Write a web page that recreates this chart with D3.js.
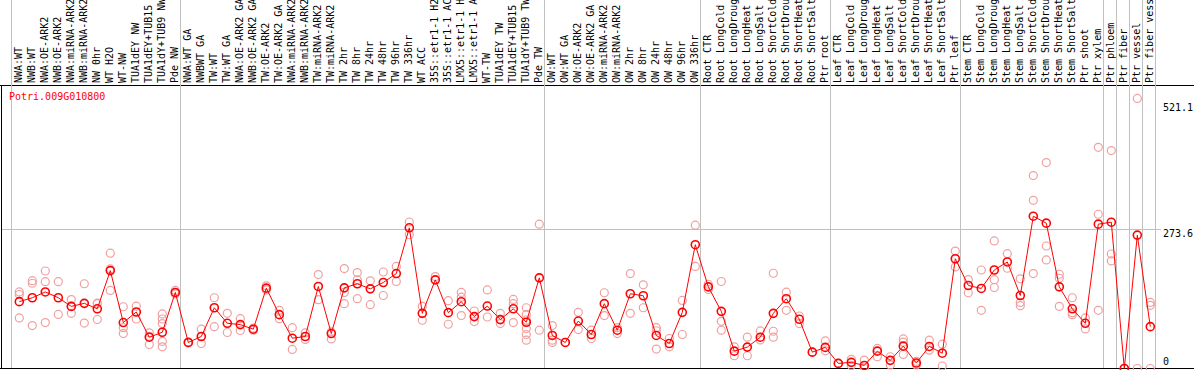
<!DOCTYPE html>
<html>
<head>
<meta charset="utf-8">
<script src="https://cdn.jsdelivr.net/npm/d3@7"></script>
<style>
  body { margin: 0; background: #fff; }
  svg { display: block; font-family: "DejaVu Sans Mono", monospace; font-size: 10px; }
</style>
</head>
<body>
<svg id="chart"></svg>
<script>
const geneName = "Potri.009G010800";

const samples = [
  "NWA:WT", "NWB:WT", "NWA:OE-ARK2", "NWB:OE-ARK2", "NWA:miRNA-ARK2", "NWB:miRNA-ARK2",
  "NW 0hr", "WT H2O", "WT-NW", "TUA1dEY NW", "TUA1dEY+TUB15 NW", "TUA1dY+TUB9 NW", "Pde NW",
  "NWA:WT GA", "NWBWT GA", "TW:WT", "TW:WT GA", "NWA:OE-ARK2 GA", "NWB:OE-ARK2 GA",
  "TW:OE-ARK2", "TW:OE-ARK2 GA", "NWA:miRNA-ARK2 GA", "NWB:miRNA-ARK2 GA", "TW:miRNA-ARK2",
  "TW:miRNA-ARK2 GA", "TW 2hr", "TW 8hr", "TW 24hr", "TW 48hr", "TW 96hr", "TW 336hr",
  "WT ACC", "35S::etr1-1 H2O", "35S::etr1-1 ACC", "LMX5::etr1-1 H2O", "LMX5::etr1-1 ACC",
  "WT-TW", "TUA1dEY TW", "TUA1dEY+TUB15 TW", "TUA1dY+TUB9 TW", "Pde TW",
  "OW:WT", "OW:WT GA", "OW:OE-ARK2", "OW:OE-ARK2 GA", "OW:miRNA-ARK2", "OW:miRNA-ARK2 GA",
  "OW 2hr", "OW 8hr", "OW 24hr", "OW 48hr", "OW 96hr", "OW 336hr",
  "Root CTR", "Root LongCold", "Root LongDrought", "Root LongHeat", "Root LongSalt",
  "Root ShortCold", "Root ShortDrought", "Root ShortHeat", "Root ShortSalt", "Ptr root",
  "Leaf CTR", "Leaf LongCold", "Leaf LongDrought", "Leaf LongHeat", "Leaf LongSalt",
  "Leaf ShortCold", "Leaf ShortDrought", "Leaf ShortHeat", "Leaf ShortSalt", "Ptr leaf",
  "Stem CTR", "Stem LongCold", "Stem LongDrought", "Stem LongHeat", "Stem LongSalt",
  "Stem ShortCold", "Stem ShortDrought", "Stem ShortHeat", "Stem ShortSalt", "Ptr shoot", "Ptr xylem",
  "Ptr phloem", "Ptr fiber", "Ptr vessel", "Ptr fiber vessel"
];

// first sample index of each group (gridline goes before it)
const groupStarts = [0, 13, 41, 53, 63, 73, 84, 85, 86, 87, 88];

const means = [
  131, 138.6, 150, 138.6, 121.7, 127.6, 117, 191.8, 90, 110.7, 61.3, 71, 149,
  51, 62.7, 119, 88.6, 86, 77, 157.4, 105.5, 59.4, 62.7, 160.7, 68.5, 158, 166, 156,
  168.5, 186, 275.6, 108, 173.7, 109.4, 130.9, 101.7, 122.3, 95.8, 117, 90.6, 177.6,
  64.7, 51, 93, 66.6, 127, 75, 146.4, 142.5, 64.7, 49, 110, 242.5,
  160, 112, 34, 41.9, 61.3, 108, 136.7, 96.4, 32, 41.3,
  10, 12, 6, 34, 16, 43.8, 10.7, 43.2, 30, 215,
  162.6, 156.8, 193, 208.7, 143, 298.3, 284.7, 160, 117, 88.6, 282.8,
  286.6, 0, 261.3, 82
];

const replicates = [
  [150, 145, 99], [172, 167, 84], [191, 170, 90], [170, 106], [135, 122, 108], [166, 89],
  [128, 127, 96], [226, 195, 153], [121, 80, 68.5], [122, 97], [69.8, 63, 47],
  [107, 97, 88, 53, 42.5], [153, 149, 146],
  [52, 50], [77, 49], [138.6, 82], [108, 70.5], [97.7, 74.4], [79, 75], [162, 154],
  [114, 97.7], [80, 37.4], [69.8, 57], [184, 134.8], [71.6, 58], [195.7, 149, 127],
  [188, 173.7, 136.7], [171.8, 125], [189, 143], [200, 170.4], [287, 262], [121.7, 94.5],
  [180], [132.8, 86.7], [149, 139.8, 103.6], [112.6, 92], [154, 100.9], [108, 88],
  [135.3, 127, 90], [119, 106, 95, 78.3, 66.6, 55.5], [282.8, 75],
  [84, 55.5, 51], [51], [110, 76.3], [75, 58.8], [148.4, 103.6], [68.5, 80], [186, 108],
  [164, 119], [80, 74, 38], [58.8, 42.5], [133.4, 66.6], [280.8, 200],
  [154.8, 165], [170.4, 92.5, 75], [42.5, 25], [61.3, 25], [73.6, 56], [186.6, 73, 61.3],
  [149.6, 114], [102.8, 88], [32], [54, 34.7],
  [10], [18, 6], [16.5, 0], [39.3, 23], [23, 7], [58, 51.6, 27.6], [14, 7], [55.5, 36],
  [47.7, 4.9], [230, 199],
  [174.3, 148.4], [193, 114], [250, 174, 158.7], [225, 196.4], [175.7, 129.5, 123],
  [378, 329.5, 186], [403.5, 240, 212.7], [184.6, 176.8, 121.7], [138.6, 109.4, 105.5],
  [99, 77.5], [433.3, 302.2, 114],
  [427, 224.3, 210.7], [0], [529, 0], [129.5, 123.7, 0]
];

const yTicks = [0, 273.6, 521.1];

const width = 1194, height = 370;
const svg = d3.select("#chart").attr("width", width).attr("height", height);

const x = d3.scaleBand()
  .domain(d3.range(samples.length))
  .range([11, 1155]);
const y = d3.scaleLinear().domain([0, 521.1]).range([368.5, 102.5]);
const cx = (i) => x(i) + 8.3;

// frame
svg.append("line").attr("x1", 0).attr("x2", width).attr("y1", 85.5).attr("y2", 85.5)
  .attr("stroke", "#000");
svg.append("line").attr("x1", 0).attr("x2", width).attr("y1", 368.5).attr("y2", 368.5)
  .attr("stroke", "#000");
svg.append("line").attr("x1", 1.5).attr("x2", 1.5).attr("y1", 85).attr("y2", 369)
  .attr("stroke", "#000");

// horizontal gridline at middle tick
svg.append("line")
  .attr("x1", 2).attr("x2", 1161)
  .attr("y1", Math.round(y(yTicks[1])) + 0.5).attr("y2", Math.round(y(yTicks[1])) + 0.5)
  .attr("stroke", "#c0c0c0");

// group separators
svg.selectAll(".vgrid")
  .data(groupStarts)
  .enter()
  .append("line")
  .attr("class", "vgrid")
  .attr("x1", (d) => Math.round(d < samples.length ? x(d) : x.range()[1]) + 0.5)
  .attr("x2", (d) => Math.round(d < samples.length ? x(d) : x.range()[1]) + 0.5)
  .attr("y1", 0).attr("y2", 368)
  .attr("stroke", "#c0c0c0");

// sample labels
svg.selectAll(".lab")
  .data(samples)
  .enter()
  .append("text")
  .attr("class", "lab")
  .attr("transform", (d, i) => "translate(" + (cx(i) + 3) + ",83) rotate(-90)")
  .attr("fill", "#000")
  .text((d) => d);

// replicate points
const repPts = [];
replicates.forEach((arr, i) => arr.forEach((v) => repPts.push({ i: i, v: v })));
svg.selectAll(".rep")
  .data(repPts)
  .enter()
  .append("circle")
  .attr("class", "rep")
  .attr("cx", (d) => cx(d.i))
  .attr("cy", (d) => y(d.v))
  .attr("r", 4)
  .attr("fill", "none")
  .attr("stroke", "#f0a0a0")
  .attr("stroke-width", 1.2);

// mean line
const line = d3.line()
  .x((d, i) => cx(i))
  .y((d) => y(d));
svg.append("path")
  .datum(means)
  .attr("d", line)
  .attr("fill", "none")
  .attr("stroke", "#ff0000")
  .attr("stroke-width", 1);

svg.selectAll(".mean")
  .data(means)
  .enter()
  .append("circle")
  .attr("class", "mean")
  .attr("cx", (d, i) => cx(i))
  .attr("cy", (d) => y(d))
  .attr("r", 4)
  .attr("fill", "none")
  .attr("stroke", "#ff0000")
  .attr("stroke-width", 1.6);

// right axis labels
svg.selectAll(".ytick")
  .data(yTicks)
  .enter()
  .append("text")
  .attr("class", "ytick")
  .attr("x", 1163)
  .attr("y", (d) => (d === 0 ? y(d) - 3.5 : y(d) + 8))
  .attr("fill", "#000")
  .text((d) => d);

// gene name
svg.append("text")
  .attr("x", 9)
  .attr("y", 99.5)
  .attr("fill", "#ff0000")
  .text(geneName);
</script>
</body>
</html>
